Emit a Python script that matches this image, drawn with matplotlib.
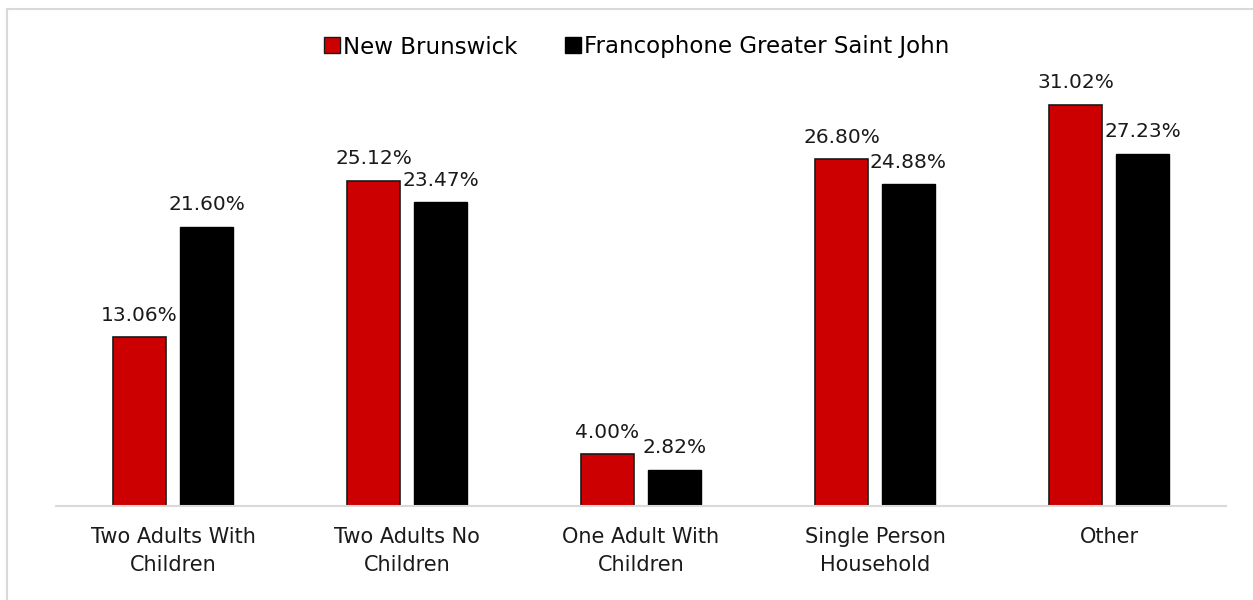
import numpy as np
import matplotlib.pyplot as plt
from matplotlib.lines import Line2D

categories = ["Two Adults With\nChildren", "Two Adults No\nChildren", "One Adult With\nChildren",
              "Single Person\nHousehold", "Other"]
new_brunswick = [13.06, 25.12, 4.00, 26.80, 31.02]
francophone_gsj = [21.60, 23.47, 2.82, 24.88, 27.23]
series_names = ["New Brunswick", "Francophone Greater Saint John"]

plt.rcParams['font.family'] = ['DejaVu Sans']

fig = plt.figure(figsize=(12.53, 6), dpi=100)
ax = fig.add_axes([56 / 1253, 94 / 600, 1170 / 1253, 486 / 600])

x = np.arange(len(categories))
w = 0.23
off = 0.143
b1 = ax.bar(x - off, new_brunswick, w, color='#cc0000', edgecolor='#1a1a1a', linewidth=1.2)
b2 = ax.bar(x + off, francophone_gsj, w, color='black', edgecolor='black', linewidth=1)

for bars, vals in ((b1, new_brunswick), (b2, francophone_gsj)):
    for b, v in zip(bars, vals):
        ax.annotate(f"{v:.2f}%", (b.get_x() + b.get_width() / 2, v), xytext=(0, 9),
                    textcoords='offset points', ha='center', va='bottom', fontsize=14.5, color='#1a1a1a')

ax.set_xlim(-0.5, len(categories) - 0.5)
ax.set_ylim(0, 37.56)
ax.set_xticks(x)
ax.set_xticklabels(categories, fontsize=15, color='#1a1a1a', linespacing=1.5)
ax.tick_params(axis='x', length=0, pad=15)
ax.set_yticks([])
for s in ['top', 'right', 'left']:
    ax.spines[s].set_visible(False)
ax.spines['bottom'].set_color('#d9d9d9')
ax.spines['bottom'].set_linewidth(1.5)

handles = [Line2D([], [], marker='s', linestyle='none', markersize=11, markerfacecolor='#cc0000',
                  markeredgecolor='#1a1a1a'),
           Line2D([], [], marker='s', linestyle='none', markersize=11, markerfacecolor='black',
                  markeredgecolor='black')]
fig.legend(handles, series_names, loc='center', bbox_to_anchor=(636 / 1253, 1 - 47 / 600), ncol=2,
           frameon=False, fontsize=16.5, handletextpad=0.1, columnspacing=2.0, handlelength=0.8)

# outer chart frame
fig.add_artist(Line2D([7 / 1253, 1], [1 - 9 / 600, 1 - 9 / 600], color='#d9d9d9', lw=1.5,
                      transform=fig.transFigure))
fig.add_artist(Line2D([7 / 1253, 7 / 1253], [0, 1 - 9 / 600], color='#d9d9d9', lw=1.5,
                      transform=fig.transFigure))

fig.savefig("out.png", dpi=100)
